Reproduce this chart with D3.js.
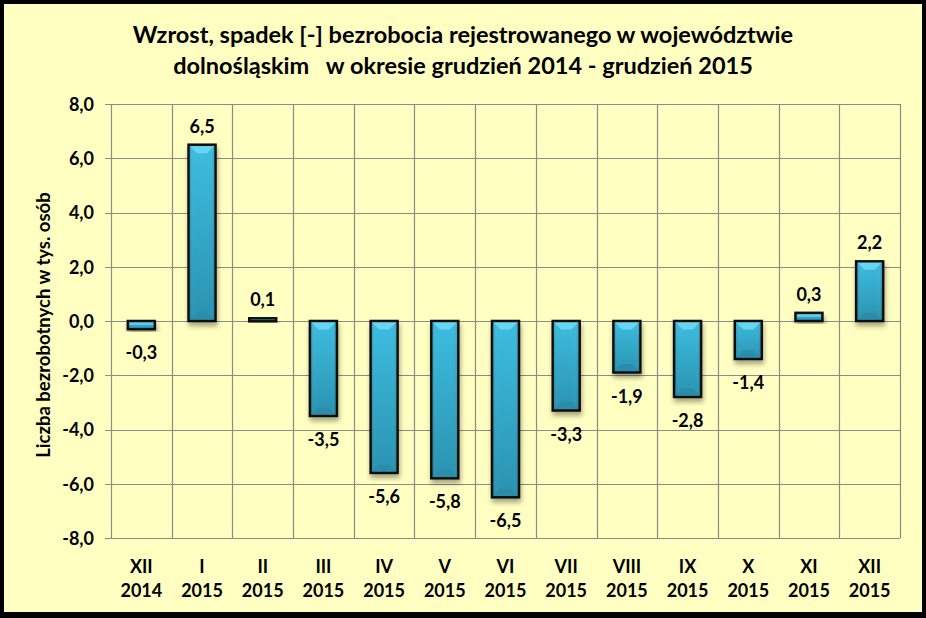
<!DOCTYPE html>
<html><head><meta charset="utf-8">
<script src="https://cdn.jsdelivr.net/npm/d3@7/dist/d3.min.js"></script>
<style>
html,body{margin:0;padding:0;background:#000;}
svg{display:block;}
text{font-family:Lato,"Open Sans",sans-serif;font-weight:700;fill:#000;}
</style></head><body>
<script>
const months = ["XII","I","II","III","IV","V","VI","VII","VIII","IX","X","XI","XII"];
const years = ["2014","2015","2015","2015","2015","2015","2015","2015","2015","2015","2015","2015","2015"];
const values = [-0.3,6.5,0.1,-3.5,-5.6,-5.8,-6.5,-3.3,-1.9,-2.8,-1.4,0.3,2.2];
const yTicks = [-8,-6,-4,-2,0,2,4,6,8];
const titleLines = ["Wzrost, spadek [-] bezrobocia rejestrowanego w województwie","dolnośląskim   w okresie grudzień 2014 - grudzień 2015"];
const yTitle = "Liczba bezrobotnych w tys. osób";

const W=926,H=618;
const svg=d3.select("body").append("svg").attr("width",W).attr("height",H);
const defs=svg.append("defs");
const g1=defs.append("linearGradient").attr("id","barg").attr("x1",0).attr("x2",0).attr("y1",0).attr("y2",1);
g1.append("stop").attr("offset","0%").attr("stop-color","#3dbde0");
g1.append("stop").attr("offset","100%").attr("stop-color","#2a93b0");
const g2=defs.append("linearGradient").attr("id","barh").attr("x1",0).attr("x2",1).attr("y1",0).attr("y2",0);
g2.append("stop").attr("offset","0%").attr("stop-color","#000").attr("stop-opacity",0.12);
g2.append("stop").attr("offset","15%").attr("stop-color","#fff").attr("stop-opacity",0.0);
g2.append("stop").attr("offset","85%").attr("stop-color","#fff").attr("stop-opacity",0.0);
g2.append("stop").attr("offset","100%").attr("stop-color","#000").attr("stop-opacity",0.12);
const f=defs.append("filter").attr("id","shadow").attr("x","-30%").attr("y","-30%").attr("width","160%").attr("height","160%");
f.append("feGaussianBlur").attr("in","SourceAlpha").attr("stdDeviation",2.5).attr("result","b");
f.append("feOffset").attr("in","b").attr("dx",1).attr("dy",4).attr("result","o");
f.append("feComponentTransfer").attr("in","o").attr("result","o2").append("feFuncA").attr("type","linear").attr("slope",0.35);
const fm=f.append("feMerge");fm.append("feMergeNode").attr("in","o2");fm.append("feMergeNode").attr("in","SourceGraphic");

// background
svg.append("rect").attr("x",4).attr("y",4).attr("width",918).attr("height",608).attr("fill","#FFFFC2");

const x=d3.scaleBand().domain(d3.range(values.length)).range([111,900]).padding(0);
const y=d3.scaleLinear().domain([-8,8]).range([538,104]);

// grid
const grid=svg.append("g");
grid.selectAll("line.h").data(yTicks).join("line")
 .attr("x1",105).attr("x2",900).attr("y1",d=>Math.round(y(d))+0.5).attr("y2",d=>Math.round(y(d))+0.5)
 .attr("stroke","#8a8a8a").attr("stroke-width",1.2);
grid.selectAll("line.v").data(d3.range(values.length+1)).join("line")
 .attr("x1",d=>Math.round(111+d*x.bandwidth())+0.5).attr("x2",d=>Math.round(111+d*x.bandwidth())+0.5)
 .attr("y1",104).attr("y2",538).attr("stroke","#8a8a8a").attr("stroke-width",1.2);

// y axis
const yAxis=d3.axisLeft(y).tickValues(yTicks).tickSize(0).tickPadding(0)
 .tickFormat(d=>d3.format(".1f")(d).replace(".",",").replace("−","-"));
const ya=svg.append("g").attr("transform","translate(94,0)").call(yAxis);
ya.select(".domain").remove();
ya.selectAll("text").attr("font-size",18).attr("font-family","Lato").attr("font-weight",700).attr("fill","#000").attr("dy","0.35em");

// x axis labels
const xl=svg.append("g");
xl.selectAll("text.m").data(months).join("text").attr("class","m")
 .attr("x",(d,i)=>x(i)+x.bandwidth()/2).attr("y",573).attr("text-anchor","middle").attr("font-size",18).text(d=>d);
xl.selectAll("text.yr").data(years).join("text").attr("class","yr")
 .attr("x",(d,i)=>x(i)+x.bandwidth()/2).attr("y",597).attr("text-anchor","middle").attr("font-size",18).text(d=>d);

// bars
const bw=27;
const bars=svg.append("g");
values.forEach((v,i)=>{
  const cx=x(i)+x.bandwidth()/2;
  const top=Math.min(y(v),y(0)), h=Math.max(Math.abs(y(v)-y(0)),3);
  const gg=bars.append("g").attr("filter","url(#shadow)");
  gg.append("rect").attr("x",cx-bw/2).attr("y",top).attr("width",bw).attr("height",h)
    .attr("fill","url(#barg)").attr("stroke","#111").attr("stroke-width",2.5);
  gg.append("rect").attr("x",cx-bw/2+1.5).attr("y",top+1.5).attr("width",bw-3).attr("height",Math.max(h-3,0))
    .attr("fill","url(#barh)");
  if(h>10){
    const bv=Math.min(7,h/3);
    gg.append("path").attr("d",`M${cx-bw/2+1.5},${top+1.5}L${cx+bw/2-1.5},${top+1.5}L${cx+bw/2-1.5-bv},${top+1.5+bv}L${cx-bw/2+1.5+bv},${top+1.5+bv}Z`)
      .attr("fill","#7fe0f8").attr("opacity",0.7);
    gg.append("path").attr("d",`M${cx-bw/2+1.5},${top+h-1.5}L${cx+bw/2-1.5},${top+h-1.5}L${cx+bw/2-1.5-bv},${top+h-1.5-bv}L${cx-bw/2+1.5+bv},${top+h-1.5-bv}Z`)
      .attr("fill","#2b8aa5").attr("opacity",0.8);
  } else {
    gg.append("rect").attr("x",cx-bw/2+1.5).attr("y",top+1.5).attr("width",bw-3).attr("height",Math.max((h-3)/2,0)).attr("fill","#7fe0f8").attr("opacity",0.6);
  }
});

// value labels
svg.append("g").selectAll("text").data(values).join("text")
 .attr("x",(d,i)=>x(i)+x.bandwidth()/2)
 .attr("y",d=>d>=0? y(d)-12 : y(d)+30)
 .attr("text-anchor","middle").attr("font-size",18)
 .text(d=>d3.format(".1f")(d).replace(".",",").replace("−","-"));

// title
svg.append("g").selectAll("text").data(titleLines).join("text")
 .attr("x",463).attr("y",(d,i)=>43+i*31).attr("text-anchor","middle").attr("font-size",23.5)
 .attr("xml:space","preserve").style("white-space","pre").text(d=>d);

// y title
svg.append("text").attr("transform","translate(50,325) rotate(-90)").attr("text-anchor","middle")
 .attr("font-size",18.5).text(yTitle);
</script>
</body></html>
